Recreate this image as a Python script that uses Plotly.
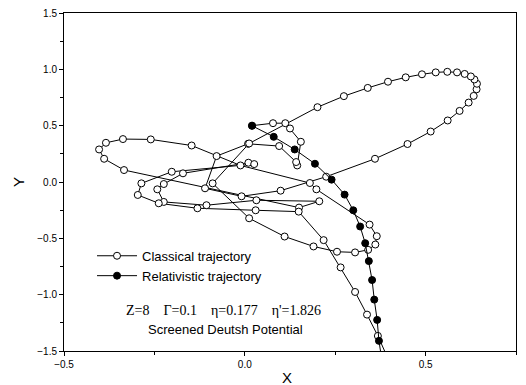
import plotly.graph_objects as go

# Classical trajectory (open circles), in time order
classical_x = [0.020, 0.078, 0.112, 0.125, 0.155, 0.145, 0.142, 0.095, 0.009, -0.078,
               -0.110, -0.009, 0.099, 0.225,
               0.360, 0.450, 0.514, 0.561, 0.594, 0.619, 0.633, 0.641, 0.642, 0.635,
               0.625, 0.608, 0.587, 0.560, 0.528, 0.490, 0.445, 0.396, 0.340, 0.274, 0.201,
               0.012, -0.089, 0.012, 0.110, 0.190, 0.255, 0.305, 0.341, 0.361, 0.365, 0.345,
               0.198, 0.180, -0.012, -0.147, -0.260, -0.337, -0.384, -0.403, -0.389, -0.334,
               0.150, 0.206, 0.032, -0.106, -0.224, -0.242, -0.224, -0.171, 0.010, 0.026,
               -0.202, -0.286, -0.296, -0.238, -0.131, 0.030, 0.149, 0.218, 0.265, 0.305,
               0.338, 0.368, 0.395]
classical_y = [0.500, 0.522, 0.522, 0.475, 0.357, 0.147, 0.177, 0.319, 0.339, 0.230,
               -0.056, -0.127, -0.077, 0.047,
               0.206, 0.337, 0.448, 0.546, 0.631, 0.705, 0.764, 0.823, 0.872, 0.910,
               0.937, 0.959, 0.973, 0.978, 0.973, 0.956, 0.929, 0.890, 0.835, 0.762, 0.664,
               0.342, -0.012, -0.322, -0.484, -0.572, -0.619, -0.625, -0.602, -0.555, -0.481, -0.378,
               -0.065, -0.009, 0.147, 0.324, 0.378, 0.381, 0.348, 0.289, 0.206, 0.106,
               -0.227, -0.171, -0.162, -0.206, -0.177, -0.065, -0.018, 0.077, 0.171, 0.159,
               0.091, -0.012, -0.115, -0.189, -0.233, -0.251, -0.263, -0.516, -0.758, -0.976,
               -1.177, -1.366, -1.560]

# Relativistic trajectory (filled circles)
rel_x = [0.020, 0.080, 0.138, 0.194, 0.240, 0.276, 0.300, 0.319, 0.333, 0.343,
         0.352, 0.358, 0.366, 0.371, 0.380]
rel_y = [0.499, 0.401, 0.289, 0.162, 0.021, -0.112, -0.251, -0.395, -0.543, -0.702,
         -0.870, -1.044, -1.224, -1.410, -1.600]

x_ticks = [-0.5, 0.0, 0.5]
y_ticks = [-1.5, -1.0, -0.5, 0.0, 0.5, 1.0, 1.5]

fig = go.Figure()
fig.add_trace(go.Scatter(
    x=classical_x, y=classical_y, mode="lines+markers", name="Classical trajectory",
    line=dict(color="black", width=1),
    marker=dict(symbol="circle", size=7, color="white", line=dict(color="black", width=1)),
    cliponaxis=True))
fig.add_trace(go.Scatter(
    x=rel_x, y=rel_y, mode="lines+markers", name="Relativistic trajectory",
    line=dict(color="black", width=1),
    marker=dict(symbol="circle", size=7, color="black", line=dict(color="black", width=1)),
    cliponaxis=True))

axis_common = dict(showgrid=False, zeroline=False, showline=True, linecolor="black",
                   linewidth=1, mirror=True, ticks="outside", ticklen=4, tickwidth=1,
                   tickcolor="black", automargin=False,
                   tickfont=dict(family="Liberation Sans, Arial", size=10, color="black"),
                   tickformat=".1f")

fig.update_xaxes(range=[-0.5, 0.75], tickvals=x_ticks,
                 minor=dict(tickvals=[-0.25, 0.25, 0.75], ticks="outside", ticklen=3, tickcolor="black"),
                 **axis_common)
fig.update_yaxes(range=[-1.5, 1.5], tickvals=y_ticks,
                 minor=dict(tickvals=[-1.25, -0.75, -0.25, 0.25, 0.75, 1.25], ticks="outside", ticklen=3, tickcolor="black"),
                 **axis_common)

# Axis titles
fig.add_annotation(xref="paper", yref="paper", x=0.493, y=-0.077, xanchor="center", yanchor="middle",
                   text="X", showarrow=False,
                   font=dict(family="Liberation Sans, Arial", size=15, color="black"))
fig.add_annotation(xref="paper", yref="paper", x=-0.102, y=0.5, xanchor="center", yanchor="middle",
                   text="Y", showarrow=False, textangle=-90,
                   font=dict(family="Liberation Sans, Arial", size=15, color="black"))

fig.add_annotation(xref="paper", yref="paper", x=0.352, y=0.121, xanchor="center", yanchor="middle",
                   text="Z=8\u00a0\u00a0\u00a0\u00a0\u0393=0.1\u00a0\u00a0\u00a0\u00a0\u03b7=0.177\u00a0\u00a0\u00a0\u00a0\u03b7'=1.826",
                   showarrow=False, font=dict(family="Liberation Serif, Times New Roman", size=14, color="black"))
fig.add_annotation(xref="paper", yref="paper", x=0.358, y=0.065, xanchor="center", yanchor="middle",
                   text="Screened Deutsh Potential",
                   showarrow=False, font=dict(family="Liberation Sans, Arial", size=13, color="black"))

fig.update_layout(
    width=526, height=385,
    margin=dict(l=64, r=10, t=13, b=34),
    paper_bgcolor="white", plot_bgcolor="white",
    showlegend=True,
    legend=dict(x=0.062, y=0.326, xanchor="left", yanchor="top", bgcolor="rgba(0,0,0,0)",
                itemwidth=40,
                font=dict(family="Liberation Sans, Arial", size=13, color="black"),
                tracegroupgap=0),
)

fig.write_html("out.html")
